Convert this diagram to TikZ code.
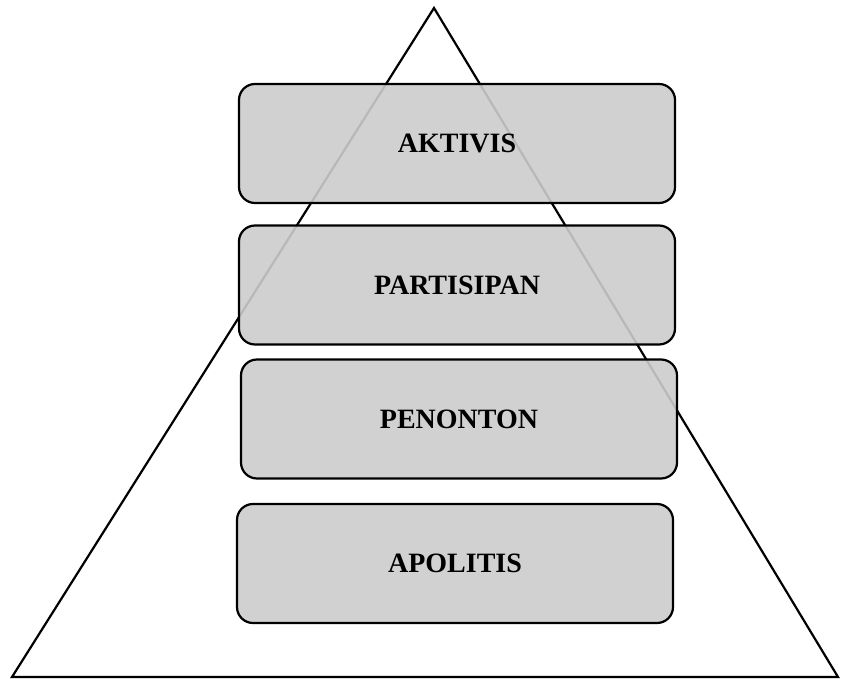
\documentclass[tikz,border=0pt]{standalone}
\usepackage{fontspec}
\setmainfont{Liberation Serif}
\begin{document}
\begin{tikzpicture}[x=1pt,y=-1pt,
  level/.style={draw=black, line width=2.2pt, rounded corners=16pt, fill=black!20, fill opacity=0.9, text opacity=1,
    font=\fontsize{28}{32}\selectfont\bfseries, inner sep=0pt},
  tri/.style={draw=black, line width=2.2pt, line join=miter}]
\useasboundingbox (0,0) rectangle (843,679);
\coordinate (apex) at (434,8);
\coordinate (bl) at (12,677);
\coordinate (br) at (838,677);
\draw[tri] (bl) -- (apex) -- (br) -- cycle;
\node[level, minimum width=436pt, minimum height=119pt] (aktivis) at (457,143.5) {AKTIVIS};
\node[level, minimum width=436pt, minimum height=119pt] (partisipan) at (457,285) {PARTISIPAN};
\node[level, minimum width=436pt, minimum height=119pt] (penonton) at (459,419) {PENONTON};
\node[level, minimum width=436pt, minimum height=119pt] (apolitis) at (455,563.5) {APOLITIS};
\end{tikzpicture}
\end{document}
